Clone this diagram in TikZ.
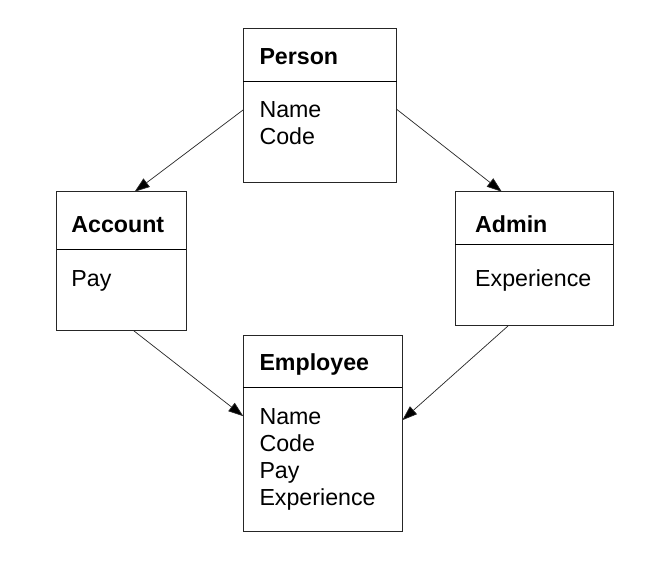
\documentclass[tikz,border=0pt]{standalone}
\usepackage{fontspec}
\setmainfont{Liberation Sans}
\usetikzlibrary{arrows.meta,calc}
\begin{document}
\begin{tikzpicture}[x=1pt,y=-1pt,
  box/.style={draw=black!85,line width=0.9pt,rectangle,anchor=north west,inner sep=0pt,outer sep=0pt},
  divider/.style={draw=black,line width=0.9pt},
  title/.style={anchor=base west,inner sep=0pt,font=\fontsize{23.2}{27}\selectfont\bfseries},
  attr/.style={anchor=base west,inner sep=0pt,font=\fontsize{23.2}{27}\selectfont},
  conn/.style={draw=black!85,line width=0.7pt,-{Triangle[length=15pt,width=10.5pt,fill=black]}}]
\fill[white] (0,0) rectangle (670,565);
\useasboundingbox (0,0) rectangle (670,565);
% boxes
\node[box,minimum width=153.4pt,minimum height=154pt] (person) at (243.3,28.3) {};
\node[box,minimum width=129.3pt,minimum height=139pt] (account) at (56.7,191.7) {};
\node[box,minimum width=158pt,minimum height=134pt] (admin) at (455.3,191.7) {};
\node[box,minimum width=159pt,minimum height=196pt] (employee) at (243.3,335.7) {};
% dividers
\draw[divider] ($(person.north west)+(0,52.7)$) -- ($(person.north east)+(0,52.7)$);
\draw[divider] ($(account.north west)+(0,57.6)$) -- ($(account.north east)+(0,57.6)$);
\draw[divider] ($(admin.north west)+(0,52.3)$) -- ($(admin.north east)+(0,52.3)$);
\draw[divider] ($(employee.north west)+(0,52)$) -- ($(employee.north east)+(0,52)$);
% texts
\node[title] (ptitle) at (259.3,64.3) {Person};
\node[attr] (pname) at (259.3,117.7) {Name};
\node[attr] (pcode) at (259.3,144.5) {Code};
\node[title] (actitle) at (71.2,232.3) {Account};
\node[attr] (acpay) at (71.2,286.2) {Pay};
\node[title] (adtitle) at (475,232.3) {Admin};
\node[attr] (adexp) at (475,286.2) {Experience};
\node[title] (etitle) at (259.3,370.7) {Employee};
\node[attr] (ename) at (259.3,424.3) {Name};
\node[attr] (ecode) at (259.3,451.3) {Code};
\node[attr] (epay) at (259.3,478) {Pay};
\node[attr] (eexp) at (259.3,505) {Experience};
% connector endpoints
\coordinate (p1) at ($(person.north west)+(0,81.5)$);
\coordinate (p2) at ($(person.north east)+(0,81)$);
\coordinate (a1) at ($(account.north west)+(78,0)$);
\coordinate (a2) at ($(account.south west)+(77,0)$);
\coordinate (d1) at ($(admin.north west)+(46.5,0)$);
\coordinate (d2) at ($(admin.south west)+(53,0)$);
\coordinate (e1) at ($(employee.north west)+(0,80.5)$);
\coordinate (e2) at ($(employee.north east)+(0,84.5)$);
\draw[conn] (p1) -- (a1);
\draw[conn] (p2) -- (d1);
\draw[conn] (a2) -- (e1);
\draw[conn] (d2) -- (e2);
\end{tikzpicture}
\end{document}
